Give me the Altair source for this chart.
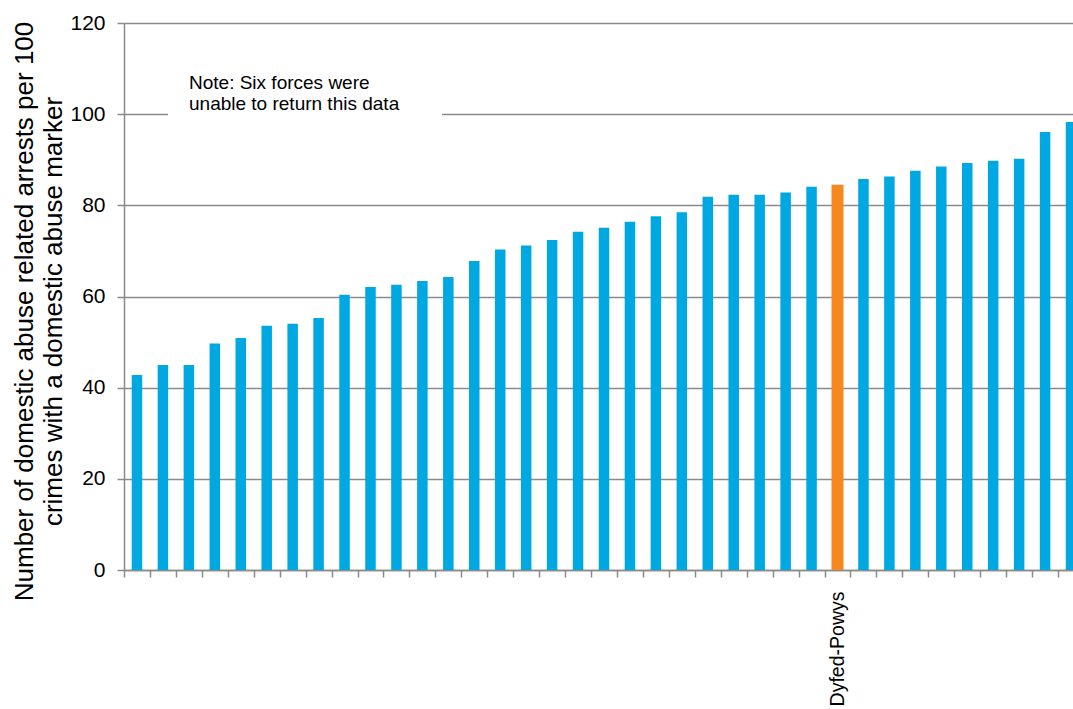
import altair as alt
import pandas as pd

# Police forces in ascending order of arrest rate; only Dyfed-Powys is labelled.
forces = (
    [f"Force {n:02d}" for n in range(1, 28)]
    + ["Dyfed-Powys"]
    + [f"Force {n:02d}" for n in range(28, 37)]
)

# Domestic abuse related arrests per 100 crimes with a domestic abuse marker
arrests_per_100 = [
    42.8, 45.0, 45.0, 49.7, 50.9, 53.6, 54.0, 55.3, 60.4, 62.1,
    62.6, 63.4, 64.3, 67.8, 70.3, 71.2, 72.4, 74.2, 75.1, 76.4,
    77.6, 78.5, 81.9, 82.3, 82.3, 82.8, 84.1, 84.5, 85.8, 86.3,
    87.6, 88.5, 89.3, 89.8, 90.2, 96.1, 98.3,
]

y_ticks = [0, 20, 40, 60, 80, 100, 120]
y_title = [
    "Number of domestic abuse related arrests  per 100",
    "crimes with a domestic abuse marker",
]
note_lines = ["Note: Six forces were", "unable to return this data"]
highlight = "Dyfed-Powys"

df = pd.DataFrame({"force": forces, "rate": arrests_per_100})
one_row = pd.DataFrame({"k": [0]})

FONT = "Liberation Sans"
GREY = "#8a8a8a"
BLUE = "#00a8e1"
ORANGE = "#f5891f"

W, H = 960, 547

bars = (
    alt.Chart(df)
    .mark_bar()
    .encode(
        x=alt.X(
            "force:N",
            sort=None,
            scale=alt.Scale(paddingInner=0, paddingOuter=0),
            axis=alt.Axis(
                title=None,
                tickBand="extent",
                tickSize=7,
                tickColor=GREY,
                tickWidth=1.5,
                domainColor=GREY,
                domainWidth=1.5,
                labelAngle=-90,
                labelFont=FONT,
                labelFontSize=19.5,
                labelColor="#000000",
                labelPadding=14,
                labelOverlap=False,
                labelExpr=f"datum.value == '{highlight}' ? datum.value : ''",
                grid=False,
            ),
        ),
        y=alt.Y(
            "rate:Q",
            scale=alt.Scale(domain=[0, 120], nice=False),
            axis=alt.Axis(
                values=y_ticks,
                title=y_title,
                titleFont=FONT,
                titleFontSize=26,
                titleFontWeight="normal",
                titleColor="#000000",
                titleLineHeight=29,
                titleAngle=-90,
                titleAlign="center",
                titleBaseline="alphabetic",
                titleX=-92,
                titleY=288,
                labelFont=FONT,
                labelFontSize=21,
                labelColor="#000000",
                labelPadding=12,
                tickSize=7,
                tickColor=GREY,
                tickWidth=1.5,
                domainColor=GREY,
                domainWidth=1.5,
                grid=True,
                gridColor=GREY,
                gridWidth=1.5,
            ),
        ),
        color=alt.condition(
            alt.datum.force == highlight, alt.value(ORANGE), alt.value(BLUE)
        ),
        size=alt.condition(
            alt.datum.force == highlight, alt.value(12), alt.value(10.5)
        ),
    )
)

# White panel behind the note, interrupting the gridline
note_box = alt.Chart(one_row).mark_rect(color="white").encode(
    x=alt.value(44), x2=alt.value(318), y=alt.value(40), y2=alt.value(102)
)

note = alt.Chart(one_row).mark_text(
    text=note_lines,
    font=FONT,
    fontSize=19,
    fontWeight="normal",
    color="#000000",
    align="left",
    baseline="alphabetic",
    lineHeight=21,
).encode(x=alt.value(65), y=alt.value(66))

chart = (
    alt.layer(bars, note_box, note)
    .properties(
        width=W,
        height=H,
        padding={"left": 124, "top": 23, "right": -11, "bottom": 139},
        autosize=alt.AutoSizeParams(type="none"),
        background="white",
    )
    .configure_view(stroke=None)
)

chart.save("out.html", embed_options={"renderer": "svg", "actions": False})
